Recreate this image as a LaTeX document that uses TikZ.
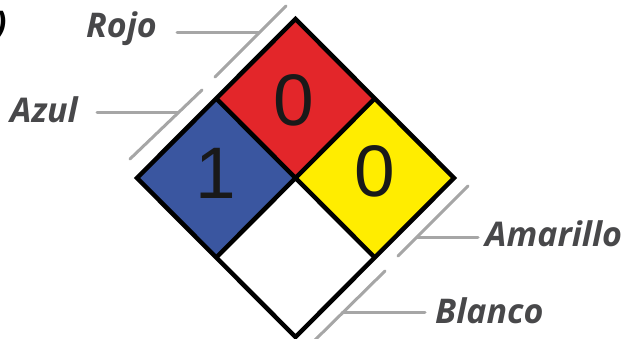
\documentclass[tikz,border=0pt]{standalone}
\usepackage{fontspec}
\setmainfont{Open Sans}
\newfontfamily\digitfont{Liberation Sans}
\usepackage{tikz}
\usetikzlibrary{calc}
\definecolor{nfred}{RGB}{227,38,42}
\definecolor{nfblue}{RGB}{58,86,160}
\definecolor{nfyellow}{RGB}{255,237,0}
\definecolor{labelgray}{RGB}{72,72,74}
\definecolor{leadgray}{RGB}{166,166,166}

\begin{document}
\begin{tikzpicture}[x=1pt,y=-1pt,
  lbl/.style={font=\fontsize{34}{40}\selectfont\bfseries\itshape,text=labelgray,anchor=base west,inner sep=0pt},
  lead/.style={draw=leadgray,line width=3pt,line cap=round},
  num/.style={font=\digitfont\fontsize{73}{80}\selectfont,text=black!90,inner sep=0pt},
  edge/.style={line width=4.5pt,line join=miter}]
\useasboundingbox (0,0) rectangle (629,339);
% corners of the diamond
\coordinate (T) at (295.5,19);
\coordinate (L) at (137,178);
\coordinate (R) at (454,178);
\coordinate (B) at (295.5,337);
\coordinate (C) at (295.5,178);
\coordinate (tl) at ($(T)!0.5!(L)$);
\coordinate (tr) at ($(T)!0.5!(R)$);
\coordinate (bl) at ($(B)!0.5!(L)$);
\coordinate (br) at ($(B)!0.5!(R)$);
% the four fields
\fill[nfred] (T) -- (tr) -- (C) -- (tl) -- cycle;
\fill[nfblue] (tl) -- (C) -- (bl) -- (L) -- cycle;
\fill[nfyellow] (tr) -- (R) -- (br) -- (C) -- cycle;
\fill[white] (C) -- (br) -- (B) -- (bl) -- cycle;
\draw[edge] (tl) -- (br) (tr) -- (bl);
\draw[edge] (T) -- (R) -- (B) -- (L) -- cycle;
\node[num] (flam) at (294,100) {0};
\node[num] (health) at (216,173) {1};
\node[num] (react) at (375,171.5) {0};
% labels
\node[lbl,text=black] (cut) at (-5,36) {)};
\node[lbl] (rojo) at (86,38) {Rojo};
\node[lbl] (azul) at (10,123) {Azul};
\node[lbl] (amarillo) at (485,247) {Amarillo};
\node[lbl] (blanco) at (435,323) {Blanco};
% leader lines
\coordinate (r1) at (177,33);  \coordinate (r2) at (258.5,33);
\coordinate (r3) at (286,6);   \coordinate (r4) at (215,77);
\coordinate (a1) at (97,113);  \coordinate (a2) at (178.5,113);
\coordinate (a3) at (202,90);  \coordinate (a4) at (130,159);
\coordinate (y1) at (478,237); \coordinate (y2) at (417,237);
\coordinate (y3) at (468,186); \coordinate (y4) at (398,256);
\coordinate (w1) at (425,312); \coordinate (w2) at (342,312);
\coordinate (w3) at (385,271); \coordinate (w4) at (314,341);
\foreach \p in {r,a,y,w}{
  \draw[lead] (\p1) -- (\p2);
  \draw[lead] (\p3) -- (\p4);
}
\end{tikzpicture}
\end{document}
